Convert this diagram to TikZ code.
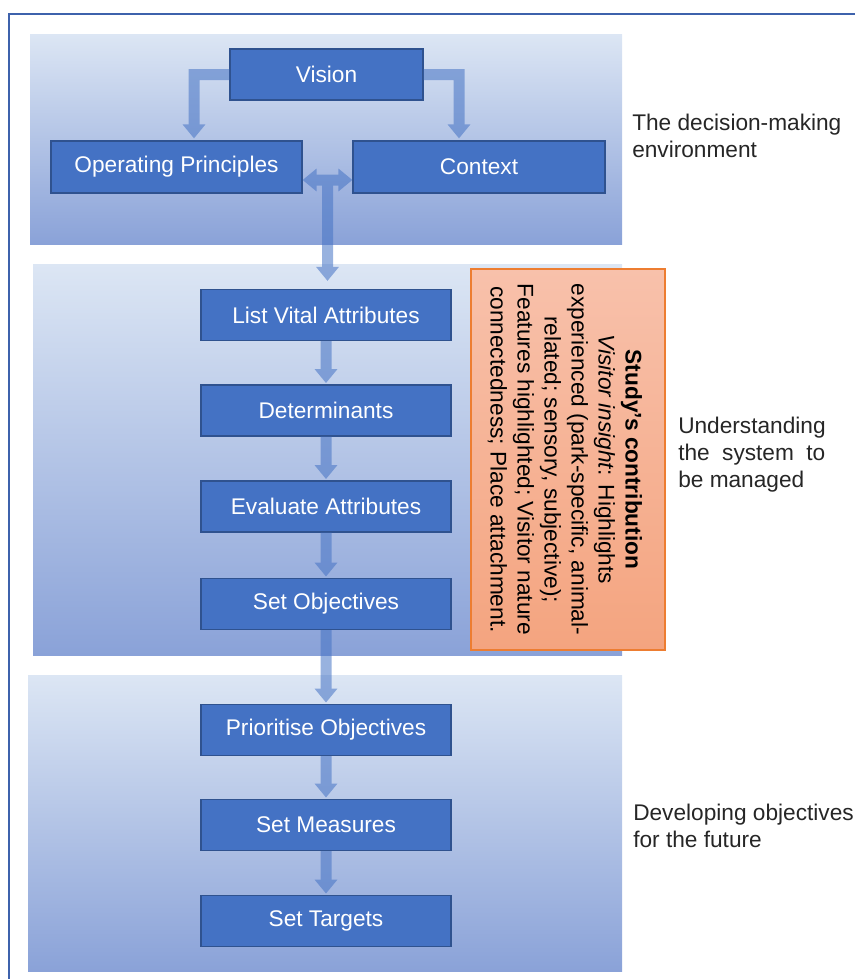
\documentclass[tikz,border=0pt]{standalone}
\usepackage{fontspec}
\setmainfont{Liberation Sans}
\usetikzlibrary{arrows.meta,calc}

\definecolor{boxblue}{HTML}{4472C4}
\definecolor{boxedge}{HTML}{2F528F}
\definecolor{paneltop}{HTML}{DCE6F4}
\definecolor{panelbot}{HTML}{8AA2D8}
\definecolor{framecol}{HTML}{3E62AC}
\definecolor{notetop}{HTML}{F8C1AB}
\definecolor{notebot}{HTML}{F4A47F}
\definecolor{noteedge}{HTML}{ED7D31}
\definecolor{labeltext}{HTML}{262626}

\begin{document}
\begin{tikzpicture}[x=0.75pt,y=-0.75pt,
  panel/.style={top color=paneltop,bottom color=panelbot,draw=none},
  stage/.style={rectangle,fill=boxblue,draw=boxedge,line width=0.9pt,
    text=white,font=\fontsize{17}{20}\selectfont,inner sep=0pt},
  chainbox/.style={stage,minimum width=187.5pt,minimum height=38.25pt},
  flow/.style={draw=boxblue,line width=8.25pt,line join=miter},
  bhead/.tip={Triangle[width=16.5pt,length=10.5pt]},
  side/.style={anchor=west,align=left,text=labeltext,inner sep=0pt,
    font=\fontsize{17}{20.25}\selectfont}]

\useasboundingbox (0,0) rectangle (855,979);

% page frame (left and top edges)
\draw[framecol,line width=1.5pt] (9,979) -- (9,14) -- (855,14);

% three shaded stage panels
\fill[panel] (30,34) rectangle (622,244);
\fill[panel] (33,264) rectangle (622,655);
\fill[panel] (28,675) rectangle (622,971);

% decision-making environment
\node[stage,minimum width=144.75pt,minimum height=38.25pt] (vision) at (326.5,74.5) {Vision};
\node[stage,minimum width=188.25pt,minimum height=39pt] (op) at (176.5,167) {Operating Principles};
\node[stage,minimum width=189pt,minimum height=39pt] (ctx) at (479,167) {Context};

% understanding the system
\node[chainbox] (list) at (326,315) {List Vital Attributes};
\node[chainbox] (det) at (326,410.5) {Determinants};
\node[chainbox] (eval) at (326,506.5) {Evaluate Attributes};
\node[chainbox] (setobj) at (326,604) {Set Objectives};

% developing objectives
\node[chainbox] (prio) at (326,730) {Prioritise Objectives};
\node[chainbox] (meas) at (326,825) {Set Measures};
\node[chainbox] (targ) at (326,921) {Set Targets};

% study's contribution note
\node[draw=noteedge,line width=1.2pt,top color=notetop,bottom color=notebot,
  minimum width=145.5pt,minimum height=285.75pt,inner sep=0pt] (note) at (568,459.5) {};
\node[rotate=-90,align=center,inner sep=0pt,text=black,
  font=\fontsize{17}{20.25}\selectfont] (notetext) at ($(note.center)+(-3,0)$)
  {\textbf{Study’s contribution}\\
   \textit{Visitor insight}: Highlights\\
   experienced (park-specific, animal-\\
   related; sensory, subjective);\\
   Features highlighted; Visitor nature\\
   connectedness; Place attachment.};

% block arrows
\begin{scope}[transparency group,opacity=0.55]
  \draw[flow,-bhead,shorten >=1.5pt] (vision.west) -| ($(op.north)+(17.5,0)$);
  \draw[flow,-bhead,shorten >=1.5pt] (vision.east) -| ($(ctx.north)+(-20,0)$);
  \draw[flow,bhead-bhead] ($(op.east)+(0,13)$) -- ($(ctx.west)+(0,13)$);
  \coordinate (hub) at ($(op.east)!0.5!(ctx.west)+(0,13)$);
  \draw[flow,-bhead,shorten >=6pt] (hub) -- (hub |- list.north);
  \draw[flow,-bhead,shorten >=1pt] (list.south) -- (det.north);
  \draw[flow,-bhead,shorten >=1pt] (det.south) -- (eval.north);
  \draw[flow,-bhead,shorten >=1pt] (eval.south) -- (setobj.north);
  \draw[flow,-bhead,shorten >=1pt] (setobj.south) -- (prio.north);
  \draw[flow,-bhead,shorten >=1pt] (prio.south) -- (meas.north);
  \draw[flow,-bhead,shorten >=1pt] (meas.south) -- (targ.north);
\end{scope}

% stage labels
\node[side] (envlabel) at (632,136) {The decision-making\\environment};
\node[side] (syslabel) at (678,455) {Understanding\\\makebox[110.25pt][s]{the system to}\\be managed};
\node[side] (devlabel) at (633,826) {Developing objectives\\for the future};
\end{tikzpicture}
\end{document}
